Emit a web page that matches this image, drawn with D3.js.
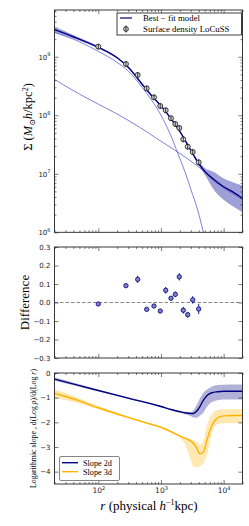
<!DOCTYPE html>
<html>
<head>
<meta charset="utf-8">
<script src="https://d3js.org/d3.v7.min.js"></script>
<style>
body{margin:0;background:#fff;}
svg{display:block;}
</style>
</head>
<body>
<svg></svg>
<script>
// LoCuSS surface density points (r in physical kpc/h)
var rData = [100, 276, 425, 592, 774, 975, 1190, 1445, 1693, 1960, 2270, 2670, 3210, 4000]
var sigmaData = [1.49e9, 7.53e8, 4.89e8, 2.89e8, 2.03e8, 1.44e8, 1.22e8, 8.9e7, 7.1e7, 6.07e7, 3.89e7, 2.91e7, 2.36e7, 1.57e7]
var sigmaErr = [1.6e8, 8e7, 5e7, 3e7, 2.1e7, 1.5e7, 1.3e7, 9e6, 7.5e6, 6.5e6, 4.2e6, 3.2e6, 2.6e6, 1.8e6]

// best-fit model and its band
var rModel = [20, 40, 100, 200, 300, 500, 700, 1000, 1500, 2000, 3000, 4000, 5000, 7000, 10000, 14000, 20000]
var sigmaFit = [2.9e9, 2.2e9, 1.45e9, 9.6e8, 6.6e8, 3.4e8, 2.2e8, 1.45e8, 8.3e7, 5.3e7, 2.5e7, 1.5e7, 1.1e7, 8.0e6, 6.0e6, 4.9e6, 3.8e6]
var sigmaFitHi = [3.3e9, 2.35e9, 1.5e9, 9.9e8, 6.8e8, 3.5e8, 2.26e8, 1.49e8, 8.5e7, 5.45e7, 2.6e7, 1.6e7, 1.25e7, 1.07e7, 8.3e6, 7.2e6, 6.3e6]
var sigmaFitLo = [2.6e9, 2.05e9, 1.4e9, 9.3e8, 6.4e8, 3.3e8, 2.14e8, 1.41e8, 8.1e7, 5.15e7, 2.4e7, 1.4e7, 9.6e6, 5.3e6, 3.6e6, 2.8e6, 2.2e6]

// model components
var r1h = [20, 40, 100, 200, 300, 500, 700, 1000, 1400, 1900, 2400, 3000, 3900, 4700, 5200]
var sigma1h = [2.6e9, 2.0e9, 1.24e9, 8.0e8, 5.7e8, 3.0e8, 1.85e8, 1.0e8, 4.8e7, 2.1e7, 1.1e7, 5.4e6, 2.3e6, 1.05e6, 7e5]
var r2h = [20, 50, 100, 200, 450, 1000, 2400, 4400, 7000, 10000, 14000, 20000]
var sigma2h = [4.1e8, 2.3e8, 1.55e8, 1.05e8, 6.3e7, 3.6e7, 1.95e7, 1.2e7, 7.6e6, 5.7e6, 4.6e6, 3.6e6]

// residuals
var diffVals = [-0.008, 0.091, 0.125, -0.037, -0.019, -0.046, 0.066, 0.023, 0.044, 0.139, -0.042, -0.066, 0.014, -0.035]
var diffErr = [0.008, 0.01, 0.02, 0.01, 0.01, 0.01, 0.018, 0.01, 0.015, 0.02, 0.018, 0.015, 0.02, 0.028]

// logarithmic slopes
var rSlope = [20, 50, 100, 300, 700, 1000, 1500, 2000, 2500, 3000, 3300, 3700, 4200, 4700, 5500, 6500, 8000, 10000, 14000, 20000]
var slope2d = [-0.25, -0.51, -0.71, -1.02, -1.25, -1.36, -1.49, -1.57, -1.62, -1.64, -1.64, -1.55, -1.35, -1.12, -0.90, -0.80, -0.76, -0.74, -0.74, -0.74]
var slope2dHi = [-0.17, -0.46, -0.68, -0.99, -1.22, -1.33, -1.46, -1.53, -1.57, -1.58, -1.52, -1.30, -1.02, -0.82, -0.66, -0.55, -0.49, -0.48, -0.47, -0.47]
var slope2dLo = [-0.31, -0.56, -0.74, -1.05, -1.28, -1.39, -1.52, -1.61, -1.68, -1.75, -1.80, -1.81, -1.72, -1.62, -1.35, -1.18, -1.10, -1.07, -1.07, -1.07]
var slope3d = [-0.82, -1.13, -1.41, -1.80, -2.08, -2.20, -2.40, -2.56, -2.66, -2.76, -2.85, -3.05, -3.27, -3.22, -2.65, -2.12, -1.82, -1.74, -1.72, -1.72]
var slope3dHi = [-0.66, -1.02, -1.34, -1.76, -2.04, -2.16, -2.36, -2.52, -2.61, -2.69, -2.74, -2.80, -2.91, -2.80, -2.05, -1.66, -1.50, -1.47, -1.47, -1.47]
var slope3dLo = [-1.00, -1.24, -1.48, -1.84, -2.12, -2.24, -2.44, -2.63, -2.95, -3.55, -3.80, -3.82, -3.78, -3.67, -3.25, -2.45, -2.08, -2.04, -2.04, -2.04]

// tick values
var xMajor = [100, 1000, 10000]
var sigmaMajor = [1e6, 1e7, 1e8, 1e9]
var diffTicks = [-0.3, -0.2, -0.1, 0, 0.1, 0.2, 0.3]
var slopeTicks = [-4, -3, -2, -1, 0]

var navy = "#000080"
var gold = "#ffb300"
var serif = "'Liberation Serif','DejaVu Serif',serif"
var sans = "'DejaVu Sans',sans-serif"

var screen = {width:249, height:526}
var frame = {left:54.5, right:242.5}
var pTop = {top:10, bottom:232.3}
var pDiff = {top:247, bottom:358}
var pSlope = {top:373, bottom:484}

var svg = d3.select("svg")
    .attr("width", screen.width)
    .attr("height", screen.height)

var xScale = d3.scaleLog().domain([20, 20000]).range([frame.left, frame.right])
var ySigma = d3.scaleLog().domain([1e6, 6.3e9]).range([pTop.bottom, pTop.top])
var yDiff = d3.scaleLinear().domain([-0.3, 0.3]).range([pDiff.bottom, pDiff.top])
var ySlope = d3.scaleLinear().domain([-4.5, 0]).range([pSlope.bottom, pSlope.top])

// minor log ticks between two limits
var minorLog = function(lo, hi)
{
    var out = []
    for (var p = Math.floor(Math.log10(lo)); p <= Math.ceil(Math.log10(hi)); p++)
        for (var k = 2; k < 10; k++)
        {
            var v = k * Math.pow(10, p)
            if (v >= lo && v <= hi) out.push(v)
        }
    return out
}

var supLabels = function(sel)
{
    sel.selectAll("text").each(function(d)
    {
        var t = d3.select(this)
        t.text("10")
        t.append("tspan").attr("dy", -3.5).attr("font-size", 5).text(Math.round(Math.log10(d)))
    })
}

// inward ticks on one side of a panel
var addTicks = function(axisFn, scale, x, y, values, size, fmt)
{
    var axis = axisFn(scale).tickValues(values).tickSizeInner(-size).tickSizeOuter(0).tickPadding(4)
    axis.tickFormat(fmt ? fmt : "")
    var g = svg.append("g")
        .attr("transform", "translate(" + x + "," + y + ")")
        .call(axis)
        .attr("font-family", sans)
        .attr("font-size", 7)
    g.select(".domain").remove()
    g.selectAll("line").attr("stroke", "#222").attr("stroke-width", 0.6)
    g.selectAll("text").attr("fill", "#222")
    return g
}

var drawFrame = function(p, yScale, yMajor, yMinor, yFmt, xLabels)
{
    var xMinor = minorLog(20, 20000)
    addTicks(d3.axisTop, xScale, 0, p.top, xMajor, 4)
    addTicks(d3.axisTop, xScale, 0, p.top, xMinor, 2)
    var b = addTicks(d3.axisBottom, xScale, 0, p.bottom, xMajor, 4, xLabels ? function(d){return d} : null)
    if (xLabels) { b.selectAll("text").attr("font-size", 7.5); supLabels(b) }
    addTicks(d3.axisBottom, xScale, 0, p.bottom, xMinor, 2)
    var l = addTicks(d3.axisLeft, yScale, frame.left, 0, yMajor, 4, yFmt)
    addTicks(d3.axisRight, yScale, frame.right, 0, yMajor, 4)
    if (yMinor)
    {
        addTicks(d3.axisLeft, yScale, frame.left, 0, yMinor, 2)
        addTicks(d3.axisRight, yScale, frame.right, 0, yMinor, 2)
    }
    svg.append("rect")
        .attr("x", frame.left).attr("y", p.top)
        .attr("width", frame.right - frame.left)
        .attr("height", p.bottom - p.top)
        .attr("fill", "none").attr("stroke", "#222").attr("stroke-width", 0.9)
    return l
}

var makeClip = function(id, p)
{
    svg.append("clipPath").attr("id", id).append("rect")
        .attr("x", frame.left).attr("y", p.top)
        .attr("width", frame.right - frame.left).attr("height", p.bottom - p.top)
    return svg.append("g").attr("clip-path", "url(#" + id + ")")
}

var zip = function(xs, ys) { return xs.map(function(x, i){ return [x, ys[i]] }) }

// ---------- top panel: surface density ----------
var drawTop = function()
{
    var g = makeClip("clipTop", pTop)
    var line = d3.line().x(function(d){return xScale(d[0])}).y(function(d){return ySigma(d[1])}).curve(d3.curveMonotoneX)
    var area = d3.area().x(function(d){return xScale(d[0])})
        .y0(function(d){return ySigma(d[1])}).y1(function(d){return ySigma(d[2])}).curve(d3.curveMonotoneX)

    g.append("path").attr("d", area(rModel.map(function(r, i){ return [r, sigmaFitLo[i], sigmaFitHi[i]] })))
        .attr("fill", "#8f8fd2").attr("opacity", 0.85)
    g.append("path").attr("d", line(zip(r1h, sigma1h)))
        .attr("fill", "none").attr("stroke", "#4b4bcc").attr("stroke-width", 0.7)
    g.append("path").attr("d", line(zip(r2h, sigma2h)))
        .attr("fill", "none").attr("stroke", "#4b4bcc").attr("stroke-width", 0.7)
    g.append("path").attr("d", line(zip(rModel, sigmaFit)))
        .attr("fill", "none").attr("stroke", navy).attr("stroke-width", 1.4)

    var pts = g.selectAll("g.pt").data(rData).enter().append("g").attr("class", "pt")
    pts.append("circle")
        .attr("cx", function(d){return xScale(d)})
        .attr("cy", function(d, i){return ySigma(sigmaData[i])})
        .attr("r", 2.5)
        .attr("fill", "#d4d4d4").attr("stroke", "#111").attr("stroke-width", 0.8)
    pts.append("line")
        .attr("x1", function(d){return xScale(d)}).attr("x2", function(d){return xScale(d)})
        .attr("y1", function(d, i){return ySigma(sigmaData[i] + sigmaErr[i])})
        .attr("y2", function(d, i){return ySigma(sigmaData[i] - sigmaErr[i])})
        .attr("stroke", "#111").attr("stroke-width", 0.8)

    var l = drawFrame(pTop, ySigma, sigmaMajor, minorLog(1e6, 6.3e9), function(d){return d}, false)
    supLabels(l)

    // legend
    var lg = svg.append("g")
    lg.append("rect").attr("x", 117).attr("y", 13).attr("width", 124.5).attr("height", 22)
        .attr("fill", "#fff").attr("stroke", "#111").attr("stroke-width", 0.8)
    lg.append("line").attr("x1", 120).attr("x2", 132).attr("y1", 18).attr("y2", 18)
        .attr("stroke", navy).attr("stroke-width", 1.2)
    lg.append("circle").attr("cx", 126).attr("cy", 29).attr("r", 2.4)
        .attr("fill", "#d4d4d4").attr("stroke", "#111").attr("stroke-width", 0.8)
    lg.append("line").attr("x1", 126).attr("x2", 126).attr("y1", 25.5).attr("y2", 32.5)
        .attr("stroke", "#111").attr("stroke-width", 0.8)
    lg.append("text").attr("x", 143).attr("y", 21).attr("font-family", serif).attr("font-size", 8.8)
        .text("Best \u2212 fit model")
    lg.append("text").attr("x", 143).attr("y", 31.5).attr("font-family", serif).attr("font-size", 8.8)
        .text("Surface density LoCuSS")

    // y label
    var t = svg.append("text").attr("transform", "translate(32,117) rotate(-90)")
        .attr("text-anchor", "middle").attr("font-family", serif).attr("font-size", 12.5)
    t.append("tspan").text("\u03A3 (")
    t.append("tspan").attr("font-style", "italic").text("M")
    t.append("tspan").attr("font-size", 8).attr("dy", 2.5).text("\u2299")
    t.append("tspan").attr("font-style", "italic").attr("dy", -2.5).text("h")
    t.append("tspan").text("/kpc")
    t.append("tspan").attr("font-size", 8).attr("dy", -4.5).text("2")
    t.append("tspan").attr("dy", 4.5).text(")")
}

// ---------- middle panel: residuals ----------
var drawDiff = function()
{
    var g = makeClip("clipDiff", pDiff)
    g.append("line").attr("x1", frame.left).attr("x2", frame.right)
        .attr("y1", yDiff(0)).attr("y2", yDiff(0))
        .attr("stroke", "#777").attr("stroke-width", 0.9).attr("stroke-dasharray", "3.5,2")
    g.selectAll("line.err").data(rData).enter().append("line").attr("class", "err")
        .attr("x1", function(d){return xScale(d)}).attr("x2", function(d){return xScale(d)})
        .attr("y1", function(d, i){return yDiff(diffVals[i] + diffErr[i])})
        .attr("y2", function(d, i){return yDiff(diffVals[i] - diffErr[i])})
        .attr("stroke", navy).attr("stroke-width", 0.9)
    g.selectAll("circle").data(rData).enter().append("circle")
        .attr("cx", function(d){return xScale(d)})
        .attr("cy", function(d, i){return yDiff(diffVals[i])})
        .attr("r", 2.2)
        .attr("fill", "#7f7fc6").attr("stroke", navy).attr("stroke-width", 0.8)

    drawFrame(pDiff, yDiff, diffTicks, null, d3.format(".1f"), false)

    svg.append("text").attr("transform", "translate(28.5,302.5) rotate(-90)")
        .attr("text-anchor", "middle").attr("font-family", serif).attr("font-size", 13)
        .text("Difference")
}

// ---------- bottom panel: slopes ----------
var drawSlope = function()
{
    var g = makeClip("clipSlope", pSlope)
    var line = d3.line().x(function(d){return xScale(d[0])}).y(function(d){return ySlope(d[1])}).curve(d3.curveMonotoneX)
    var area = d3.area().x(function(d){return xScale(d[0])})
        .y0(function(d){return ySlope(d[1])}).y1(function(d){return ySlope(d[2])}).curve(d3.curveMonotoneX)

    g.append("path").attr("d", area(rSlope.map(function(r, i){ return [r, slope2dLo[i], slope2dHi[i]] })))
        .attr("fill", navy).attr("opacity", 0.3)
    g.append("path").attr("d", area(rSlope.map(function(r, i){ return [r, slope3dLo[i], slope3dHi[i]] })))
        .attr("fill", gold).attr("opacity", 0.3)
    g.append("path").attr("d", line(zip(rSlope, slope2d)))
        .attr("fill", "none").attr("stroke", navy).attr("stroke-width", 1.4)
    g.append("path").attr("d", line(zip(rSlope, slope3d)))
        .attr("fill", "none").attr("stroke", gold).attr("stroke-width", 1.4)

    drawFrame(pSlope, ySlope, slopeTicks, null, d3.format("d"), true)

    // legend
    var lg = svg.append("g")
    lg.append("rect").attr("x", 59.5).attr("y", 456.5).attr("width", 60).attr("height", 24).attr("rx", 1.5)
        .attr("fill", "#fff").attr("stroke", "#666").attr("stroke-width", 0.8)
    lg.append("line").attr("x1", 62).attr("x2", 78).attr("y1", 462.7).attr("y2", 462.7)
        .attr("stroke", navy).attr("stroke-width", 1.4)
    lg.append("line").attr("x1", 62).attr("x2", 78).attr("y1", 471.7).attr("y2", 471.7)
        .attr("stroke", gold).attr("stroke-width", 1.4)
    lg.append("text").attr("x", 83).attr("y", 465.6).attr("font-family", serif).attr("font-size", 8.2)
        .text("Slope 2d")
    lg.append("text").attr("x", 83).attr("y", 474.6).attr("font-family", serif).attr("font-size", 8.2)
        .text("Slope 3d")

    // y label
    var t = svg.append("text").attr("transform", "translate(36,428.5) rotate(-90)")
        .attr("text-anchor", "middle").attr("font-family", serif).attr("font-size", 7.8)
    t.append("tspan").text("Logarithmic slope , d(Log ")
    t.append("tspan").attr("font-style", "italic").text("\u03C1")
    t.append("tspan").text(")/d(Log ")
    t.append("tspan").attr("font-style", "italic").text("r")
    t.append("tspan").text(")")

    // x label
    var x = svg.append("text").attr("x", 149).attr("y", 509.5)
        .attr("text-anchor", "middle").attr("font-family", serif).attr("font-size", 13)
    x.append("tspan").attr("font-style", "italic").text("r")
    x.append("tspan").text(" (physical ")
    x.append("tspan").attr("font-style", "italic").text("h")
    x.append("tspan").attr("font-size", 8).attr("dy", -5).text("\u22121")
    x.append("tspan").attr("dy", 5).text("kpc)")
}

drawTop()
drawDiff()
drawSlope()
</script>
</body>
</html>
